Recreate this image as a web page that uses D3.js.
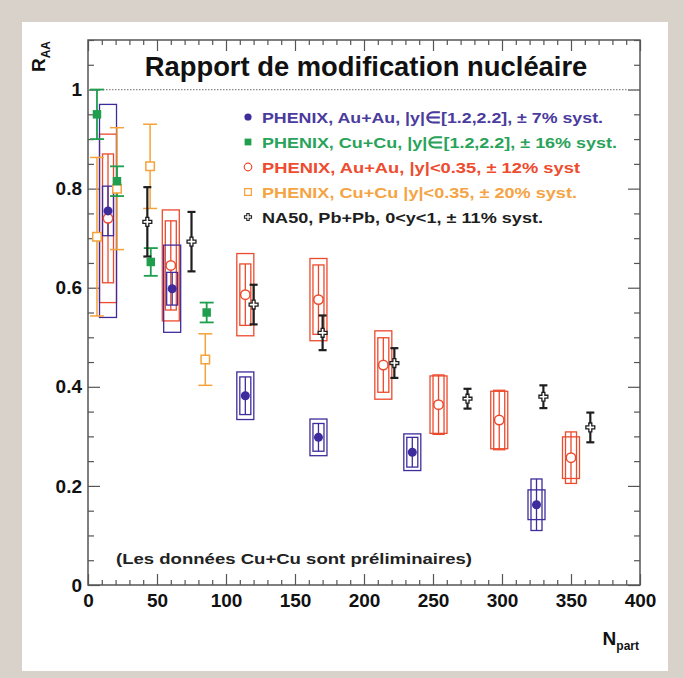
<!DOCTYPE html>
<html>
<head>
<meta charset="utf-8">
<script src="https://cdn.jsdelivr.net/npm/d3@7"></script>
<style>
  body { margin: 0; background: #d8d2cb; }
  svg { display: block; }
  text { font-family: "Liberation Sans", Arial, Helvetica, sans-serif; font-weight: bold; }
</style>
</head>
<body>
<svg id="chart" width="684" height="678"></svg>
<script>
// ---- data : J/psi nuclear modification factor vs number of participants ----
// PHENIX Au+Au, forward rapidity |y| in [1.2,2.2]
const auFwdN    = [14.5, 61, 114, 167, 235, 325];
const auFwdR    = [0.755, 0.598, 0.382, 0.298, 0.268, 0.162];
const auFwdStat = [0.05, 0.033, 0.038, 0.028, 0.03, 0.052];
const auFwdSyst = [0.215, 0.088, 0.048, 0.037, 0.037, 0.03];

// PHENIX Cu+Cu, forward rapidity |y| in [1.2,2.2]
const cuFwdN    = [6.5, 21, 45.5, 86];
const cuFwdR    = [0.95, 0.815, 0.652, 0.55];
const cuFwdStat = [0.05, 0.03, 0.028, 0.02];

// PHENIX Au+Au, mid rapidity |y|<0.35
const auMidN    = [14.5, 60, 114, 167, 214, 254, 298, 350];
const auMidR    = [0.74, 0.645, 0.586, 0.576, 0.444, 0.364, 0.333, 0.257];
const auMidStat = [0.13, 0.09, 0.062, 0.07, 0.055, 0.06, 0.06, 0.052];
const auMidSyst = [0.17, 0.112, 0.083, 0.083, 0.069, 0.058, 0.058, 0.042];

// PHENIX Cu+Cu, mid rapidity |y|<0.35
const cuMidN    = [6.5, 21, 45, 85];
const cuMidR    = [0.703, 0.80, 0.845, 0.455];
const cuMidStat = [0.16, 0.123, 0.085, 0.052];

// NA50 Pb+Pb, 0<y<1
const na50N    = [43, 75, 120, 170, 222, 275, 330, 364];
const na50R    = [0.733, 0.693, 0.566, 0.509, 0.448, 0.376, 0.38, 0.318];
const na50Stat = [0.07, 0.06, 0.04, 0.035, 0.03, 0.02, 0.023, 0.03];

const xTicks = [0, 50, 100, 150, 200, 250, 300, 350, 400];
const yTicks = [0, 0.2, 0.4, 0.6, 0.8, 1];

const legendLabels = [
  "PHENIX, Au+Au, |y|\u2208[1.2,2.2], \u00b1 7% syst.",
  "PHENIX, Cu+Cu, |y|\u2208[1.2,2.2], \u00b1 16% syst.",
  "PHENIX, Au+Au, |y|<0.35, \u00b1 12% syst",
  "PHENIX, Cu+Cu |y|<0.35, \u00b1 20% syst.",
  "NA50, Pb+Pb, 0<y<1, \u00b1 11% syst."
];

const titleText = "Rapport de modification nucléaire";
const noteText = "(Les données Cu+Cu sont préliminaires)";

// ---- palette ----
const C = {
  auFwd: "#3f2c9c",
  cuFwd: "#1f9f4e",
  auMid: "#ec4a2d",
  cuMid: "#f5a23a",
  na50:  "#1e1e1e"
};
const legendTextColors = ["#4a3b9d", "#2aa35a", "#ee4b2f", "#f5a444", "#1e1e1e"];

// ---- layout ----
const svg = d3.select("#chart");
const W = 684, H = 678;
const frame = { left: 88, right: 640, top: 40, bottom: 585 };

svg.append("rect").attr("x", 0).attr("y", 0).attr("width", W).attr("height", H).attr("fill", "#d8d2cb");
svg.append("rect").attr("x", 22).attr("y", 22).attr("width", 646).attr("height", 649).attr("fill", "#ffffff");

const x = d3.scaleLinear().domain([0, 400]).range([frame.left, frame.right]);
const y = d3.scaleLinear().domain([0, 1.1]).range([frame.bottom, frame.top]);

// ---- axes (inward ticks on all four sides) ----
const axisColor = "#555";
function styleAxis(g) {
  g.select(".domain").remove();
  g.selectAll(".tick line").attr("stroke", axisColor).attr("stroke-width", 1.2);
  g.selectAll(".tick text").attr("fill", "#111").attr("font-size", 19);
}
const xMinor = d3.range(0, 401, 10).filter(v => v % 50 !== 0);
const yMinor = d3.range(0, 1.1001, 0.05).map(v => +v.toFixed(2)).filter(v => Math.abs(v / 0.2 - Math.round(v / 0.2)) > 1e-6);

svg.append("g").attr("transform", `translate(0,${frame.bottom})`)
  .call(d3.axisBottom(x).tickValues(xTicks).tickSize(-11).tickPadding(9).tickFormat(d3.format("d")))
  .call(styleAxis);
svg.append("g").attr("transform", `translate(0,${frame.bottom})`)
  .call(d3.axisBottom(x).tickValues(xMinor).tickSize(-5).tickFormat(""))
  .call(styleAxis);
svg.append("g").attr("transform", `translate(0,${frame.top})`)
  .call(d3.axisTop(x).tickValues(xTicks).tickSize(-11).tickFormat(""))
  .call(styleAxis);
svg.append("g").attr("transform", `translate(0,${frame.top})`)
  .call(d3.axisTop(x).tickValues(xMinor).tickSize(-5).tickFormat(""))
  .call(styleAxis);

svg.append("g").attr("transform", `translate(${frame.left},0)`)
  .call(d3.axisLeft(y).tickValues(yTicks).tickSize(-12).tickPadding(6).tickFormat(d3.format("~g")))
  .call(styleAxis);
svg.append("g").attr("transform", `translate(${frame.left},0)`)
  .call(d3.axisLeft(y).tickValues(yMinor).tickSize(-6).tickFormat(""))
  .call(styleAxis);
svg.append("g").attr("transform", `translate(${frame.right},0)`)
  .call(d3.axisRight(y).tickValues(yTicks).tickSize(-12).tickFormat(""))
  .call(styleAxis);
svg.append("g").attr("transform", `translate(${frame.right},0)`)
  .call(d3.axisRight(y).tickValues(yMinor).tickSize(-6).tickFormat(""))
  .call(styleAxis);

svg.append("rect")
  .attr("x", frame.left).attr("y", frame.top)
  .attr("width", frame.right - frame.left).attr("height", frame.bottom - frame.top)
  .attr("fill", "none").attr("stroke", axisColor).attr("stroke-width", 1.5);

// reference line at R_AA = 1
svg.append("line")
  .attr("x1", frame.left).attr("x2", frame.right)
  .attr("y1", y(1)).attr("y2", y(1))
  .attr("stroke", "#8a8a8a").attr("stroke-width", 1.2).attr("stroke-dasharray", "1.5,1.5");

// ---- helpers ----
const zip = (n, r, s, b) => n.map((v, i) => ({ n: v, r: r[i], stat: s[i], syst: b ? b[i] : 0 }));

function drawBoxed(data, color, outerHalf, innerHalf) {
  const g = svg.append("g").attr("fill", "none").attr("stroke", color).attr("stroke-width", 1.3);
  data.forEach(d => {
    const cx = x(d.n);
    g.append("rect")
      .attr("x", cx - outerHalf).attr("width", outerHalf * 2)
      .attr("y", y(d.r + d.syst)).attr("height", y(d.r - d.syst) - y(d.r + d.syst));
    g.append("rect")
      .attr("x", cx - innerHalf).attr("width", innerHalf * 2)
      .attr("y", y(d.r + d.stat)).attr("height", y(d.r - d.stat) - y(d.r + d.stat));
    g.append("line").attr("x1", cx).attr("x2", cx).attr("y1", y(d.r + d.stat)).attr("y2", y(d.r - d.stat));
  });
}

function drawBars(data, color, capHalf, width) {
  const g = svg.append("g").attr("stroke", color).attr("stroke-width", width);
  data.forEach(d => {
    const cx = x(d.n);
    const top = y(Math.min(d.r + d.stat, 1.1)), bot = y(d.r - d.stat);
    g.append("line").attr("x1", cx).attr("x2", cx).attr("y1", top).attr("y2", bot);
    g.append("line").attr("x1", cx - capHalf).attr("x2", cx + capHalf).attr("y1", top).attr("y2", top);
    g.append("line").attr("x1", cx - capHalf).attr("x2", cx + capHalf).attr("y1", bot).attr("y2", bot);
  });
}

const sym = {
  circle: d3.symbol().type(d3.symbolCircle),
  square: d3.symbol().type(d3.symbolSquare),
  cross:  d3.symbol().type(d3.symbolCross)
};

function marker(g, kind, cx, cy, color) {
  if (kind === "fullCircle") {
    g.append("path").attr("d", sym.circle.size(64)()).attr("transform", `translate(${cx},${cy})`).attr("fill", color);
  } else if (kind === "fullSquare") {
    g.append("path").attr("d", sym.square.size(72)()).attr("transform", `translate(${cx},${cy})`).attr("fill", color);
  } else if (kind === "openCircle") {
    g.append("path").attr("d", sym.circle.size(70)()).attr("transform", `translate(${cx},${cy})`)
      .attr("fill", "#fff").attr("stroke", color).attr("stroke-width", 1.5);
  } else if (kind === "openSquare") {
    g.append("path").attr("d", sym.square.size(72)()).attr("transform", `translate(${cx},${cy})`)
      .attr("fill", "#fff").attr("stroke", color).attr("stroke-width", 1.5);
  } else if (kind === "openCross") {
    g.append("path").attr("d", sym.cross.size(44)()).attr("transform", `translate(${cx},${cy})`)
      .attr("fill", "#fff").attr("stroke", color).attr("stroke-width", 1.3);
  }
}

function drawMarkers(data, kind, color) {
  const g = svg.append("g");
  data.forEach(d => marker(g, kind, x(d.n), y(d.r), color));
}

// ---- series ----
const auMid = zip(auMidN, auMidR, auMidStat, auMidSyst);
const auFwd = zip(auFwdN, auFwdR, auFwdStat, auFwdSyst);
const cuMid = zip(cuMidN, cuMidR, cuMidStat);
const cuFwd = zip(cuFwdN, cuFwdR, cuFwdStat);
const na50  = zip(na50N, na50R, na50Stat);

drawBoxed(auMid, C.auMid, 8.5, 5.5);
drawBoxed(auFwd, C.auFwd, 8.5, 5.5);
drawBars(cuMid, C.cuMid, 7, 1.5);
drawBars(cuFwd, C.cuFwd, 7, 1.8);
drawBars(na50, C.na50, 4, 2.2);

drawMarkers(auMid, "openCircle", C.auMid);
drawMarkers(cuMid, "openSquare", C.cuMid);
drawMarkers(auFwd, "fullCircle", C.auFwd);
drawMarkers(cuFwd, "fullSquare", C.cuFwd);
drawMarkers(na50, "openCross", C.na50);

// ---- title ----
const title = svg.append("text")
  .attr("x", 366).attr("y", 76).attr("text-anchor", "middle")
  .attr("font-size", 23).attr("fill", "#111").text(titleText);
const tw = title.node().getComputedTextLength();
title.attr("font-size", 23 * 443 / tw);

// ---- legend (wide bold face: each row stretched to its span) ----
const legendKinds = ["fullCircle", "fullSquare", "openCircle", "openSquare", "openCross"];
const legendColors = [C.auFwd, C.cuFwd, C.auMid, C.cuMid, C.na50];
const legendSpan = [341, 355, 318, 315, 281];
const lg = svg.append("g");
legendLabels.forEach((lab, i) => {
  const ly = 117 + i * 25;
  const mg = lg.append("g");
  marker(mg, legendKinds[i], 248, ly, legendColors[i]);
  mg.select("path").attr("transform", `translate(248,${ly}) scale(0.8)`);
  lg.append("text").attr("x", 262).attr("y", ly + 5.5)
    .attr("font-size", 15.5).attr("fill", legendTextColors[i])
    .attr("textLength", legendSpan[i]).attr("lengthAdjust", "spacingAndGlyphs")
    .text(lab);
});

// ---- note ----
svg.append("text").attr("x", 116).attr("y", 564)
  .attr("font-size", 15.5).attr("fill", "#222")
  .attr("textLength", 356).attr("lengthAdjust", "spacingAndGlyphs")
  .text(noteText);

// ---- axis titles ----
const yl = svg.append("text")
  .attr("transform", "translate(45,41) rotate(-90)")
  .attr("text-anchor", "end").attr("fill", "#111");
yl.append("tspan").attr("font-size", 19).text("R");
yl.append("tspan").attr("font-size", 12).attr("dy", 5).text("AA");

const xl = svg.append("text")
  .attr("x", 639).attr("y", 645).attr("text-anchor", "end").attr("fill", "#111");
xl.append("tspan").attr("font-size", 19).text("N");
xl.append("tspan").attr("font-size", 12).attr("dy", 5).text("part");
</script>
</body>
</html>
